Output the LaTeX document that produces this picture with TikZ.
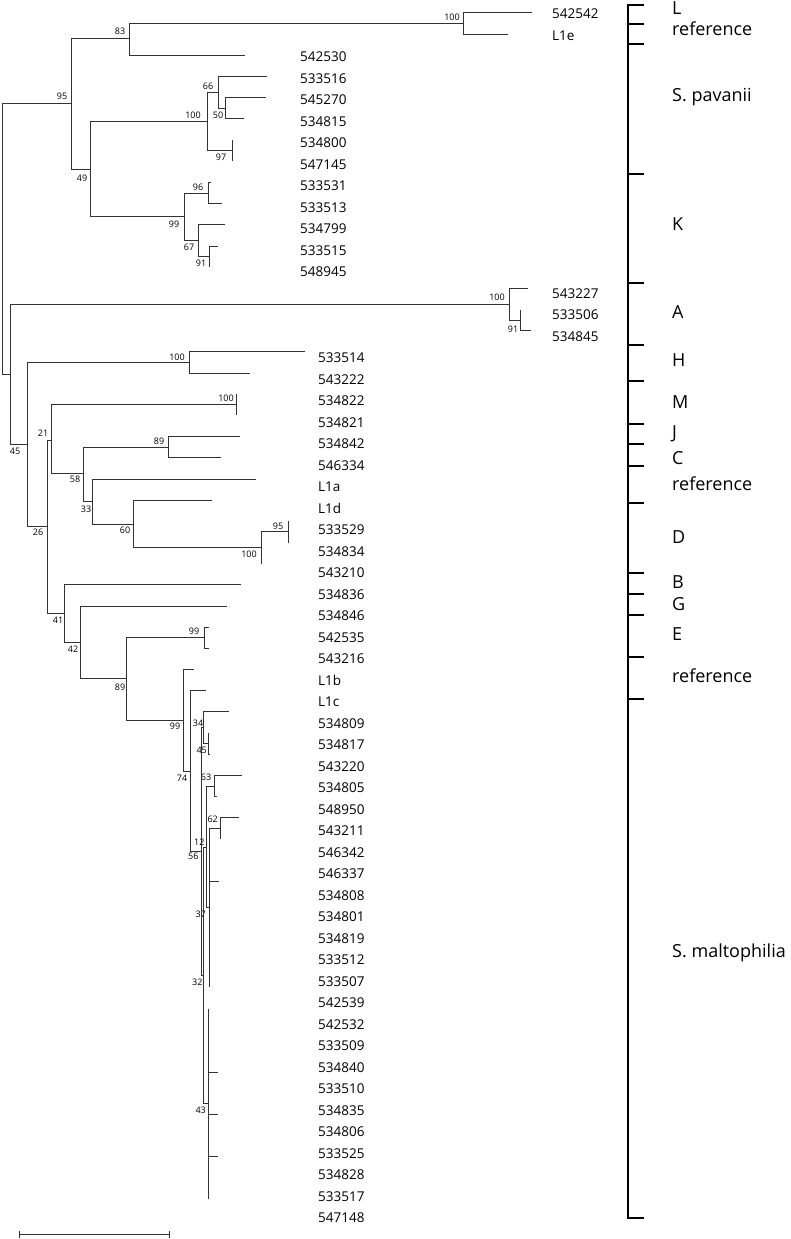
\documentclass[tikz,border=0pt]{standalone}
\usepackage{fontspec}
\setmainfont{Open Sans}
\begin{document}
\begin{tikzpicture}[x=1pt,y=-1pt,
  br/.style={draw=black!80,line width=1pt},
  leaf/.style={anchor=west,inner sep=0pt,font=\fontsize{13.5}{14}\selectfont},
  bs/.style={inner sep=0pt,font=\fontsize{9}{10}\selectfont},
  grp/.style={anchor=base west,inner sep=0pt,font=\fontsize{18}{20}\selectfont},
  bk/.style={draw=black,line width=1.8pt}]
\useasboundingbox (0,0) rectangle (791,1239);
% ---- leaf labels ----
\foreach \t/\x/\i in {542542/552/0, L1e/552/1, 542530/300/2, 533516/300/3, 545270/300/4,
  534815/300/5, 534800/300/6, 547145/300/7, 533531/300/8, 533513/300/9, 534799/300/10,
  533515/300/11, 548945/300/12, 543227/552/13, 533506/552/14, 534845/552/15,
  533514/318/16, 543222/318/17, 534822/318/18, 534821/318/19, 534842/318/20, 546334/318/21,
  L1a/318/22, L1d/318/23, 533529/318/24, 534834/318/25, 543210/318/26, 534836/318/27,
  534846/318/28, 542535/318/29, 543216/318/30, L1b/318/31, L1c/318/32, 534809/318/33,
  534817/318/34, 543220/318/35, 534805/318/36, 548950/318/37, 543211/318/38, 546342/318/39,
  546337/318/40, 534808/318/41, 534801/318/42, 534819/318/43, 533512/318/44, 533507/318/45,
  542539/318/46, 542532/318/47, 533509/318/48, 534840/318/49, 533510/318/50, 534835/318/51,
  534806/318/52, 533525/318/53, 534828/318/54, 533517/318/55, 547148/318/56}
  \node[leaf] (lf\i) at (\x,{14+21.5*\i}) {\t};
% ---- bootstrap values ----
\foreach \t/\x/\y [count=\k] in {83/120/31, 95/62/96, 100/452/17, 66/208/86, 100/193/115,
  50/218/115, 97/221/157, 49/82/178, 96/198/187, 99/174/224, 67/189/247, 91/201/263,
  100/497/297, 91/513/329, 45/15/451, 100/177/357, 100/226/398, 21/43/433, 89/159/441,
  58/75/479, 33/86/509, 60/125/530, 26/38/532, 95/278/526, 100/249/554, 41/58/620,
  42/73/649, 99/194/631, 89/120/687, 99/175/726, 74/182/778, 34/198/723, 45/201.7/750,
  63/206/777, 62/212.7/819, 12/199.3/842.7, 56/193.3/856, 37/200.7/914, 32/197.3/982,
  43/200.7/1110.7}
  \node[bs] (bs\k) at (\x,\y) {\t};
% ---- tree ----
\draw[br] (71,103) -- (2,103) -- (2,374) -- (10,374);
\draw[br] (129,39) -- (71,39) -- (71,169) -- (90,169);
\draw[br] (463,23.6) -- (129,23.6) -- (129,55.4) -- (245,55.4);
\draw[br] (532,13) -- (463,13) -- (463,34.2) -- (508,34.2);
\draw[br] (207,121.3) -- (90,121.3) -- (90,216.8) -- (184,216.8);
\draw[br] (218,92.4) -- (207,92.4) -- (207,150.7) -- (232,150.7);
\draw[br] (267,76.5) -- (218,76.5) -- (218,108.3) -- (225,108.3);
\draw[br] (266,97.7) -- (225,97.7) -- (225,118.9) -- (244,118.9);
\draw[br] (232,140.1) -- (232,161.3);
\draw[br] (208,193) -- (184,193) -- (184,240.6) -- (198,240.6);
\draw[br] (211,182.4) -- (208,182.4) -- (208,203.6) -- (222,203.6);
\draw[br] (225,224.8) -- (198,224.8) -- (198,256.6) -- (209,256.6);
\draw[br] (218,246) -- (209,246) -- (209,267.2);
\draw[br] (509,304) -- (10,304) -- (10,444) -- (27,444);
\draw[br] (528,288.3) -- (509,288.3) -- (509,320.1) -- (520,320.1);
\draw[br] (520,309.5) -- (520,330.7) -- (531,330.7);
\draw[br] (189,362.5) -- (27,362.5) -- (27,526.5) -- (47,526.5);
\draw[br] (305,351.9) -- (189,351.9) -- (189,373.1) -- (250,373.1);
\draw[br] (51,440) -- (47,440) -- (47,613) -- (64,613);
\draw[br] (236,404.8) -- (51,404.8) -- (51,473.5) -- (83,473.5);
\draw[br] (236,394.2) -- (236,415.4);
\draw[br] (168,447.2) -- (83,447.2) -- (83,501) -- (92,501);
\draw[br] (240,436.6) -- (168,436.6) -- (168,457.8) -- (221,457.8);
\draw[br] (256,479) -- (92,479) -- (92,524) -- (133,524);
\draw[br] (212,500.1) -- (133,500.1) -- (133,547.8) -- (261,547.8);
\draw[br] (288,531.9) -- (261,531.9) -- (261,563.7);
\draw[br] (288,521.3) -- (288,542.5);
\draw[br] (241,584.9) -- (64,584.9) -- (64,642) -- (80,642);
\draw[br] (227,606) -- (80,606) -- (80,678) -- (126,678);
\draw[br] (204,637.8) -- (126,637.8) -- (126,720.3) -- (183.3,720.3);
\draw[br] (209,627.2) -- (204,627.2) -- (204,648.4) -- (209,648.4);
\draw[br] (194,669.6) -- (183.3,669.6) -- (183.3,771) -- (190.3,771);
\draw[br] (205.7,690.8) -- (190.3,690.8) -- (190.3,851.4) -- (201,851.4);
\draw[br] (203.3,727.7) -- (201,727.7) -- (201,975.4) -- (203.3,975.4);
\draw[br] (229,711.9) -- (203.3,711.9) -- (203.3,743.7) -- (208.3,743.7);
\draw[br] (208.3,733.1) -- (208.3,754.3) -- (210,754.3);
\draw[br] (206.7,847) -- (203.3,847) -- (203.3,1103.8) -- (208.3,1103.8);
\draw[br] (214.3,786.1) -- (206.7,786.1) -- (206.7,907.8) -- (209.3,907.8);
\draw[br] (242,775.5) -- (214.3,775.5) -- (214.3,796.7) -- (216.7,796.7);
\draw[br] (220,828.4) -- (209.3,828.4) -- (209.3,987.3);
\draw[br] (209.3,881.4) -- (219.3,881.4);
\draw[br] (239.3,817.8) -- (220,817.8) -- (220,839);
\draw[br] (208.3,1008.5) -- (208.3,1199.1);
\foreach \y in {1072,1114.4,1156.7} \draw[br] (208.3,\y) -- (218.3,\y);
% ---- scale bar ----
\coordinate (sb1) at (19,1234);
\coordinate (sb2) at (169,1234);
\draw[br] (sb1) -- (sb2);
\draw[br] (19,1230.5) -- (19,1237.5);
\draw[br] (169,1230.5) -- (169,1237.5);
% ---- bracket ----
\coordinate (bt) at (628,5);
\coordinate (bb) at (628,1218);
\draw[bk] (bt) -- (bb);
\foreach \y in {5,24,44,174,283,345,381,424,444,466,503,573,594,615,657,699,1218}
  \draw[bk] (627.1,\y) -- (644,\y);
% ---- group labels ----
\foreach \t/\y [count=\k] in {L/15, reference/36, S. pavanii/101.7, K/230, A/318, H/366.7,
  M/408.3, J/438.3, C/464, reference/490, D/543.3, B/588.3, G/610, E/640.7,
  reference/682.7, S. maltophilia/957}
  \node[grp] (g\k) at (672,\y) {\t};
\end{tikzpicture}
\end{document}
